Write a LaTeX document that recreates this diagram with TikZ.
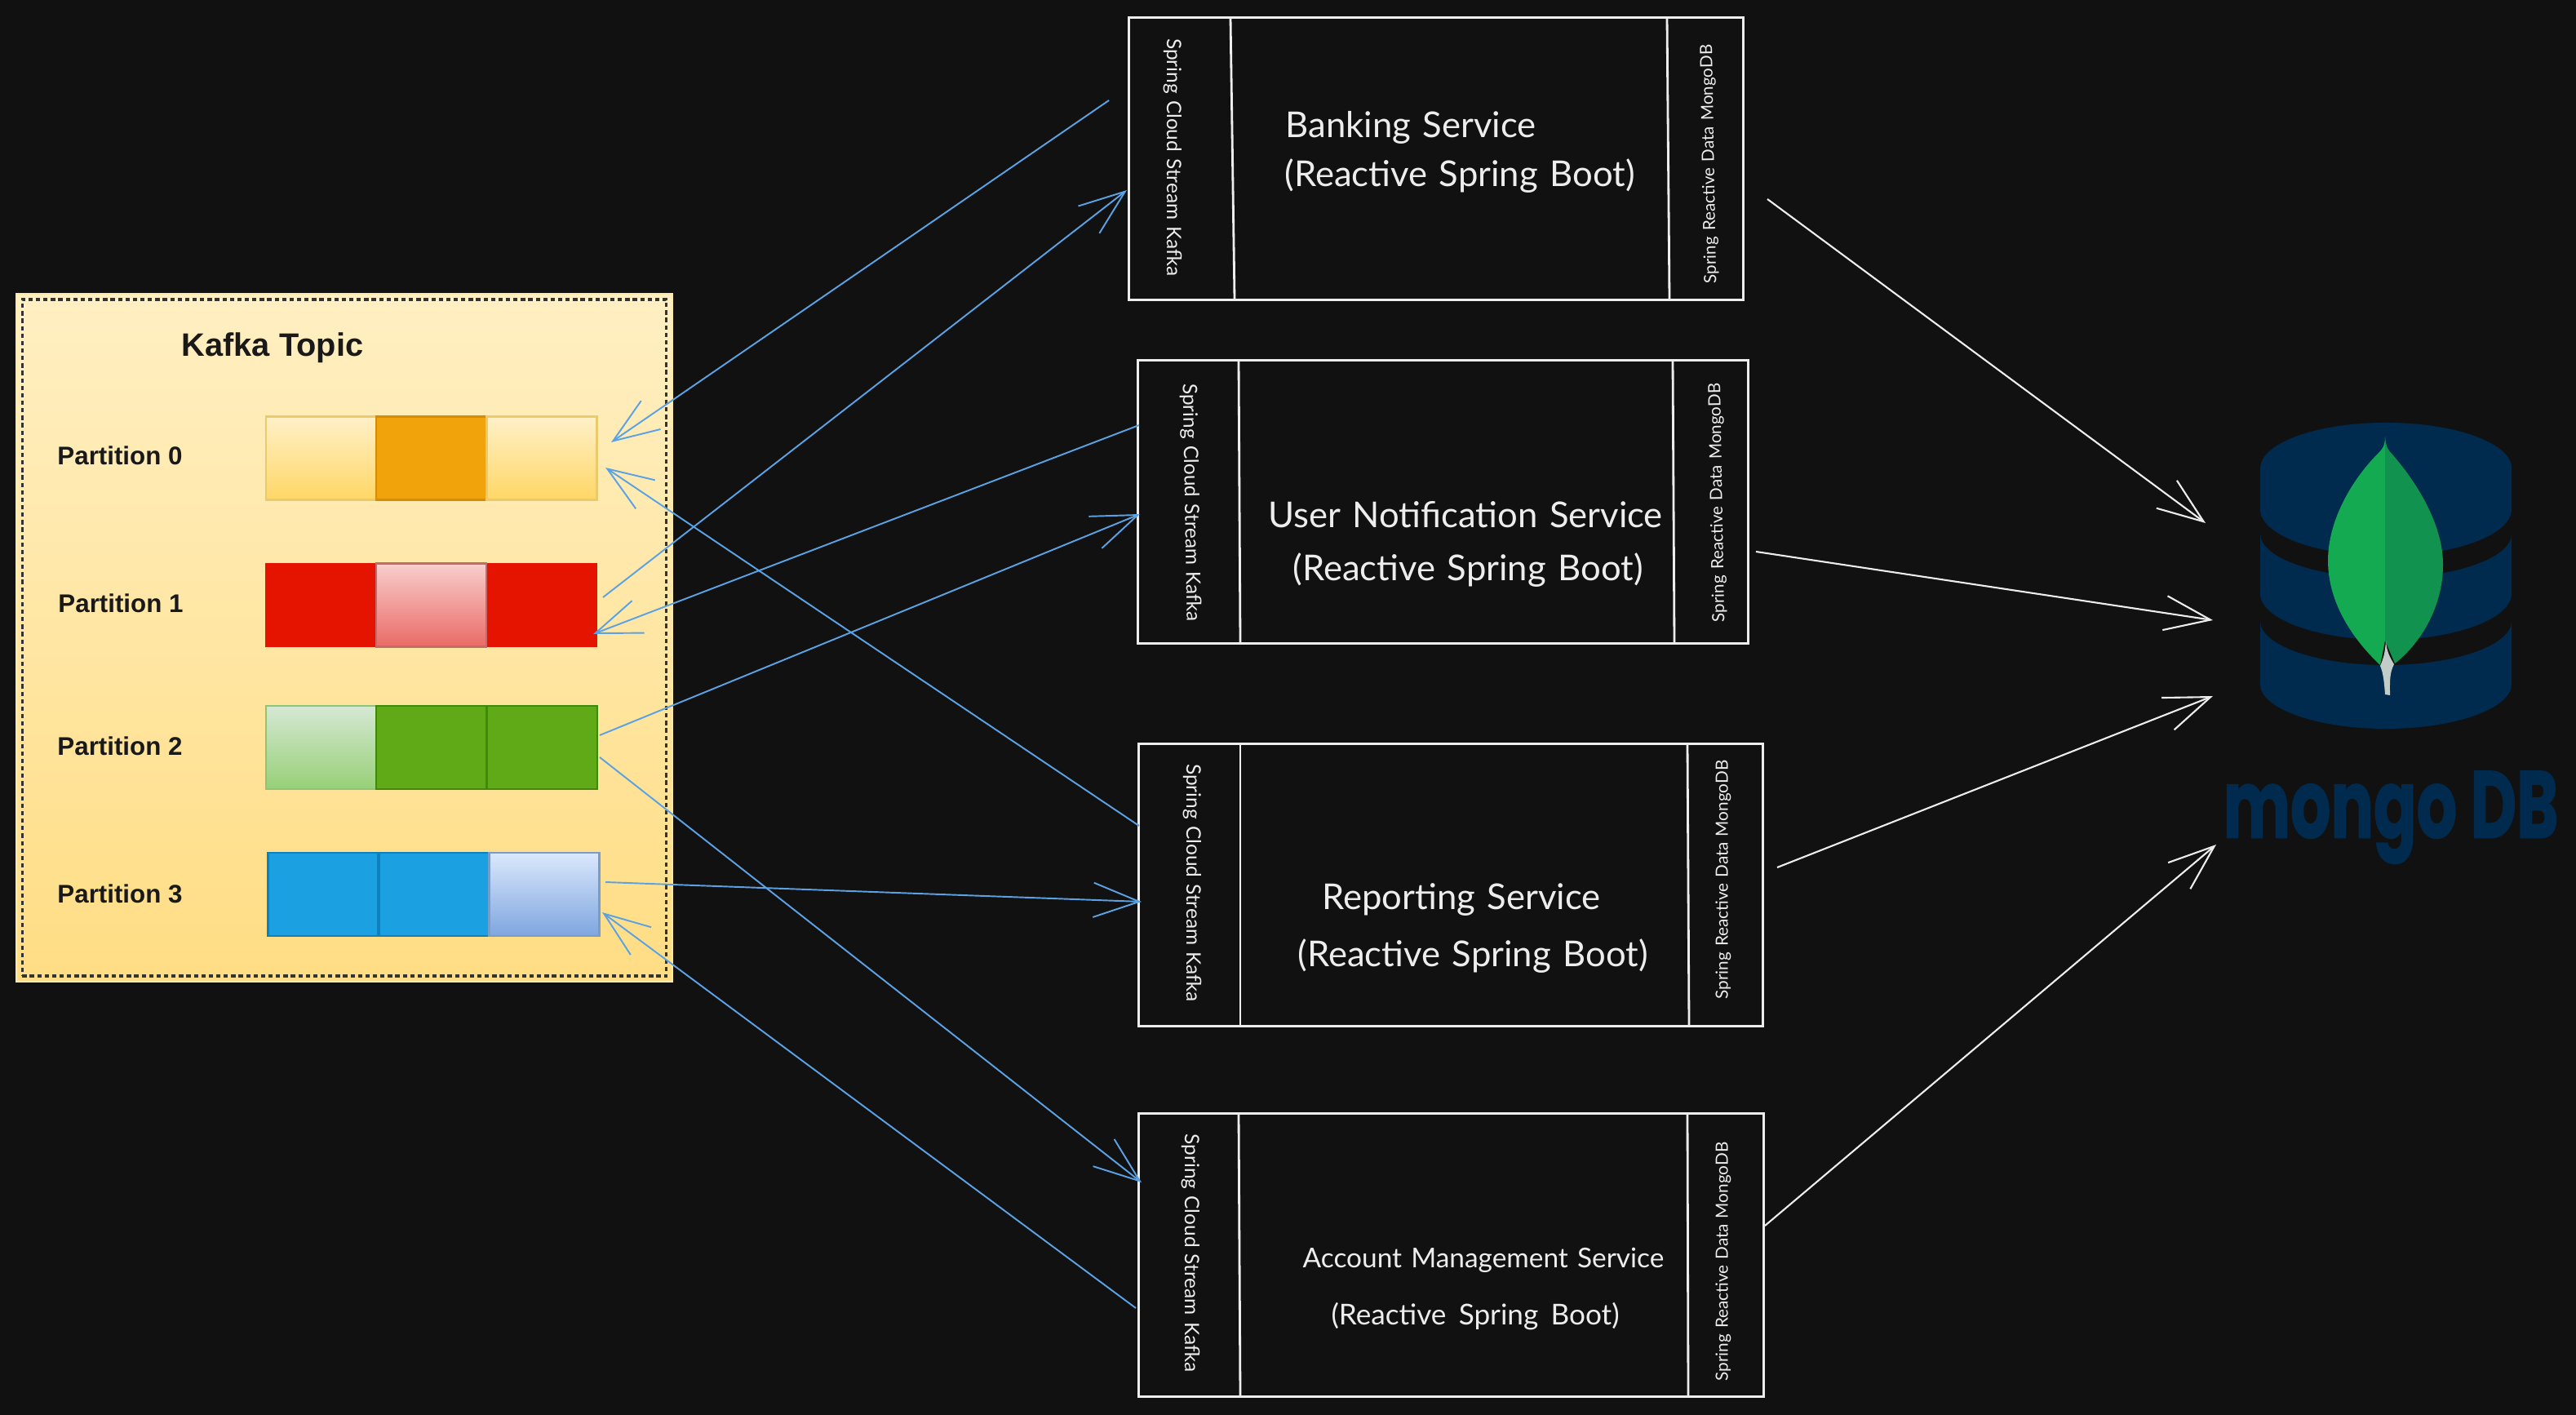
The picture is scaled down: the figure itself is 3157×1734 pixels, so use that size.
\documentclass[tikz,border=0pt]{standalone}
\usepackage{fontspec}
\usetikzlibrary{arrows.meta}
\newfontfamily\labelfont{Liberation Sans}
\newfontfamily\sketchfont[WordSpace=1.9]{Lato}
\newfontfamily\sidefont[WordSpace=1.3]{Lato}
\newfontfamily\logofont[FakeBold=1.5]{Poppins}
\definecolor{canvas}{HTML}{111111}
\definecolor{sketch}{HTML}{EDEDED}
\definecolor{wire}{HTML}{5BA2E4}
\definecolor{navy}{HTML}{002B4F}
\definecolor{paneltop}{HTML}{FFEFC2}
\definecolor{panelbottom}{HTML}{FFDD84}
\definecolor{paneledge}{HTML}{FFE9A6}
\definecolor{ambertop}{HTML}{FFF0C8}
\definecolor{amberlow}{HTML}{FFD766}
\definecolor{amberedge}{HTML}{E9CB6E}
\definecolor{amber}{HTML}{F0A30A}
\definecolor{amberdark}{HTML}{D58C08}
\definecolor{redfull}{HTML}{E51400}
\definecolor{redtop}{HTML}{F8CECC}
\definecolor{redlow}{HTML}{EA6B66}
\definecolor{rededge}{HTML}{C46A6A}
\definecolor{greenfull}{HTML}{60A917}
\definecolor{greendark}{HTML}{3F8A0E}
\definecolor{greentop}{HTML}{D5E8D4}
\definecolor{greenlow}{HTML}{97D077}
\definecolor{greenedge}{HTML}{8CC57A}
\definecolor{bluefull}{HTML}{1BA1E2}
\definecolor{bluedark}{HTML}{0F7FBD}
\definecolor{bluetop}{HTML}{DAE8FC}
\definecolor{bluelow}{HTML}{7EA6E0}
\definecolor{blueedge}{HTML}{7C9CC8}
\definecolor{leafleft}{HTML}{13AA52}
\definecolor{leafright}{HTML}{12924F}
\definecolor{leafstem}{HTML}{C2CCC8}
\tikzstyle{frame}=[draw=sketch, line width=0.8pt]
\tikzstyle{servicebox}=[frame, inner sep=0pt, outer sep=0pt]
\tikzstyle{kafkatext}=[text=sketch, font=\sidefont\fontsize{6.95}{9}\selectfont, inner sep=0pt]
\tikzstyle{datatext}=[text=sketch, font=\sidefont\fontsize{5.9}{8}\selectfont, inner sep=0pt]
\tikzstyle{maintext}=[text=sketch, font=\sketchfont\fontsize{12.4}{14}\selectfont, inner sep=0pt]
\tikzstyle{partlabel}=[text=black!90, font=\labelfont\bfseries\fontsize{8.9}{10}\selectfont, inner sep=0pt]
\tikzstyle{cell}=[minimum width=1.35cm, minimum height=1.02cm, inner sep=0pt, outer sep=0pt, line width=0.6pt]
\tikzstyle{kafkaline}=[draw=wire, line width=0.55pt, -{Straight Barb[length=16pt,width=12pt]}]
\tikzstyle{mongoline}=[draw=sketch, line width=0.6pt, -{Straight Barb[length=16pt,width=12pt]}]
\begin{document}
\begin{tikzpicture}[x=0.01cm, y=-0.01cm]
        \fill[canvas] (0,0) rectangle (3157,1734);

        % kafka topic panel
        \node[draw=paneledge, top color=paneltop, bottom color=panelbottom, minimum width=8.04cm, minimum height=8.43cm, inner sep=0pt, line width=0.5pt] (topic) at (422,781.5) {};
        \node[draw=black!80, line width=1pt, dash pattern=on 1.5pt off 1.1pt, minimum width=7.89cm, minimum height=8.29cm, inner sep=0pt] (topicborder) at (422,781.5) {};
        \node[text=black!90, font=\labelfont\bfseries\fontsize{11.3}{13}\selectfont, inner sep=0pt] (topictitle) at (334,426) {Kafka Topic};

        % partition 0
        \node[partlabel] (label0) at (147,558) {Partition 0};
        \node[cell, draw=amberedge, top color=ambertop, bottom color=amberlow] (cell00) at (393.5,561.5) {};
        \node[cell, draw=amberdark, fill=amber] (cell01) at (528.5,561.5) {};
        \node[cell, draw=amberedge, top color=ambertop, bottom color=amberlow] (cell02) at (664,561.5) {};
        % partition 1
        \node[partlabel] (label1) at (148,739) {Partition 1};
        \node[cell, fill=redfull] (cell10) at (393,741.5) {};
        \node[cell, draw=rededge, top color=redtop, bottom color=redlow] (cell11) at (528.5,741.5) {};
        \node[cell, fill=redfull] (cell12) at (664.5,741.5) {};
        % partition 2
        \node[partlabel] (label2) at (147,914) {Partition 2};
        \node[cell, draw=greenedge, top color=greentop, bottom color=greenlow] (cell20) at (393.5,916) {};
        \node[cell, draw=greendark, fill=greenfull] (cell21) at (528.5,916) {};
        \node[cell, draw=greendark, fill=greenfull] (cell22) at (664.5,916) {};
        % partition 3
        \node[partlabel] (label3) at (147,1095) {Partition 3};
        \node[cell, draw=bluedark, fill=bluefull] (cell30) at (396,1096) {};
        \node[cell, draw=bluedark, fill=bluefull] (cell31) at (532,1096) {};
        \node[cell, draw=blueedge, top color=bluetop, bottom color=bluelow] (cell32) at (667,1096) {};

        % banking service
        \node[servicebox, minimum width=7.52cm, minimum height=3.45cm] (bank) at (1760,194.5) {};
        \draw[frame] (1508,22) -- (1513,367);
        \draw[frame] (2043,22) -- (2046,367);
        \node[kafkatext, rotate=-90] (bankkafka) at (1437,193) {Spring Cloud Stream Kafka};
        \node[datatext, rotate=91] (bankdata) at (2095,201) {Spring Reactive Data MongoDB};
        \node[maintext] (bankname) at (1729,156) {Banking Service};
        \node[maintext] (banktech) at (1789,216) {(Reactive Spring Boot)};

        % user notification service
        \node[servicebox, minimum width=7.47cm, minimum height=3.46cm] (user) at (1768.5,615) {};
        \draw[frame] (1518,442) -- (1520,788);
        \draw[frame] (2050,442) -- (2052,788);
        \node[kafkatext, rotate=-89] (userkafka) at (1459,616) {Spring Cloud Stream Kafka};
        \node[datatext, rotate=91] (userdata) at (2105,616) {Spring Reactive Data MongoDB};
        \node[maintext] (username) at (1796,631) {User Notification Service};
        \node[maintext] (usertech) at (1799,699) {(Reactive Spring Boot)};

        % reporting service
        \node[servicebox, minimum width=7.64cm, minimum height=3.45cm] (report) at (1778,1084.5) {};
        \draw[frame] (1520,912) -- (1520,1257);
        \draw[frame] (2068,912) -- (2070,1257);
        \node[kafkatext, rotate=-90] (reportkafka) at (1461,1082) {Spring Cloud Stream Kafka};
        \node[datatext, rotate=90] (reportdata) at (2112,1078) {Spring Reactive Data MongoDB};
        \node[maintext] (reportname) at (1791,1102.5) {Reporting Service};
        \node[maintext] (reporttech) at (1805,1172) {(Reactive Spring Boot)};

        % account management service
        \node[servicebox, minimum width=7.65cm, minimum height=3.46cm] (account) at (1778.5,1538) {};
        \draw[frame] (1518,1365) -- (1520,1711);
        \draw[frame] (2068,1365) -- (2069,1711);
        \node[kafkatext, rotate=-90] (accountkafka) at (1459,1535.5) {Spring Cloud Stream Kafka};
        \node[datatext, rotate=90] (accountdata) at (2112,1546) {Spring Reactive Data MongoDB};
        \node[maintext, font=\sketchfont\fontsize{9.5}{13}\selectfont] (accountname) at (1818,1544) {Account Management Service};
        \node[maintext, font=\sketchfont\fontsize{10}{13}\selectfont] (accounttech) at (1808,1613) {(Reactive Spring Boot)};

        % mongo logo
        \fill[navy] (2770,574) arc[start angle=180, end angle=0, x radius=1.54cm, y radius=0.56cm] -- (3078,624) arc[start angle=0, end angle=-180, x radius=1.54cm, y radius=0.57cm] -- cycle;
        \fill[navy] (2770,654) arc[start angle=180, end angle=360, x radius=1.54cm, y radius=0.54cm] -- (3078,727) arc[start angle=0, end angle=-180, x radius=1.54cm, y radius=0.57cm] -- cycle;
        \fill[navy] (2770,761) arc[start angle=180, end angle=360, x radius=1.54cm, y radius=0.54cm] -- (3078,838) arc[start angle=0, end angle=-180, x radius=1.54cm, y radius=0.55cm] -- cycle;
        \fill[leafleft] (2923,535) .. controls (2923,546) and (2920,550) .. (2915,555) .. controls (2880,590) and (2853,640) .. (2853,687) .. controls (2853,740) and (2885,785) .. (2917,815) -- (2923,785) -- cycle;
        \fill[leafright] (2923,535) .. controls (2924,548) and (2927,552) .. (2932,557) .. controls (2965,595) and (2994,645) .. (2994,692) .. controls (2994,745) and (2965,790) .. (2935,813) -- (2923,785) -- cycle;
        \fill[leafstem] (2924,785) .. controls (2925,800) and (2930,807) .. (2934,814) .. controls (2928,825) and (2929,838) .. (2929,852) -- (2923,851) .. controls (2922,838) and (2921,825) .. (2917,816) .. controls (2921,807) and (2923,800) .. (2924,785) -- cycle;
        \node[text=navy, inner sep=0pt, anchor=base] (mongotext) at (2930,1026.5) {\scalebox{.67}[1]{\logofont\bfseries\fontsize{33}{36}\selectfont mongo DB}};

        % ends of the connectors
        \coordinate (p0out) at (1359,123);
        \coordinate (p0in) at (749,542);
        \coordinate (p1out) at (739,732);
        \coordinate (bankin) at (1381,233);
        \coordinate (userout) at (1396,521);
        \coordinate (p1in) at (727,777);
        \coordinate (p2up) at (735,901);
        \coordinate (userin) at (1397,630);
        \coordinate (reportout) at (1396,1012);
        \coordinate (p0low) at (742,573);
        \coordinate (p3out) at (742,1081);
        \coordinate (reportin) at (1399,1105);
        \coordinate (p2down) at (735,928);
        \coordinate (accountin) at (1399,1449);
        \coordinate (accountout) at (1392,1603);
        \coordinate (p3in) at (738,1118);
        \coordinate (bankdb) at (2166,244);
        \coordinate (dbone) at (2703,641);
        \coordinate (userdb) at (2152,676);
        \coordinate (dbtwo) at (2712,760);
        \coordinate (reportdb) at (2178,1063);
        \coordinate (dbthree) at (2712,853);
        \coordinate (accountdb) at (2163,1502);
        \coordinate (dbfour) at (2716,1035);

        % kafka connectors
        \draw[kafkaline] (p0out) -- (p0in);
        \draw[kafkaline] (p1out) -- (bankin);
        \draw[kafkaline] (userout) -- (p1in);
        \draw[kafkaline] (p2up) -- (userin);
        \draw[kafkaline] (reportout) -- (p0low);
        \draw[kafkaline] (p3out) -- (reportin);
        \draw[kafkaline] (p2down) -- (accountin);
        \draw[kafkaline] (accountout) -- (p3in);

        % mongo connectors
        \draw[mongoline] (bankdb) -- (dbone);
        \draw[mongoline] (userdb) -- (dbtwo);
        \draw[mongoline] (reportdb) -- (dbthree);
        \draw[mongoline] (accountdb) -- (dbfour);
    \end{tikzpicture}
\end{document}
